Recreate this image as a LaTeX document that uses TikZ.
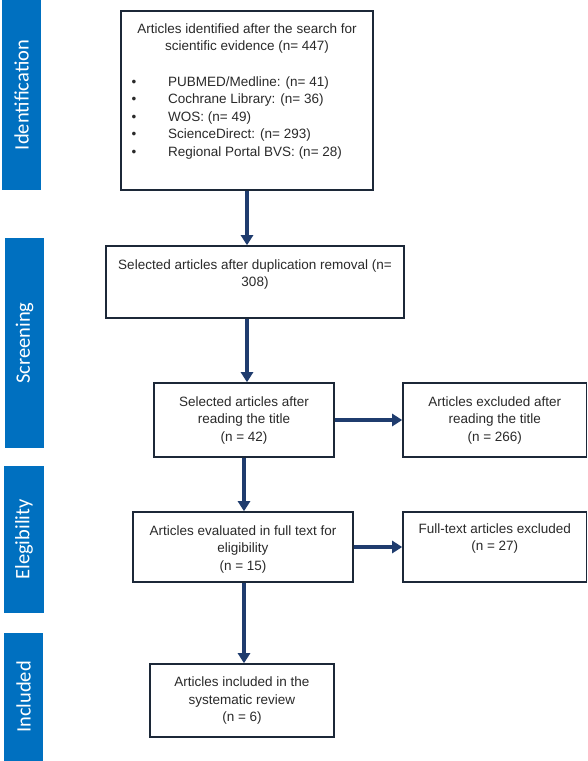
\documentclass[tikz,border=0pt]{standalone}
\usepackage{fontspec}
\setmainfont{Liberation Sans}
\newfontfamily\barfont{Carlito}
\usetikzlibrary{arrows.meta}
\definecolor{barblue}{HTML}{0070C0}
\definecolor{arrownavy}{HTML}{1F3C6E}
\definecolor{boxline}{HTML}{1C2838}
\definecolor{txtgray}{HTML}{2A2A2A}
\begin{document}
\begin{tikzpicture}[x=1pt,y=-1pt,
  box/.style={draw=boxline, line width=1.6pt, fill=white, inner sep=0pt,
    text=txtgray, font=\fontsize{13.5}{17.5}\selectfont, align=center},
  txt/.style={text=txtgray, font=\fontsize{13.5}{17.5}\selectfont, align=center, inner sep=0pt},
  bar/.style={fill=barblue, inner sep=0pt, text=white, rotate=90,
    font=\barfont\fontsize{20.5}{24}\selectfont},
  arr/.style={draw=arrownavy, line width=4.2pt, -{Triangle[width=12pt,length=10pt]}}
]
\useasboundingbox (0,0) rectangle (588,761);

% phase bars
\node[bar, minimum width=190pt, minimum height=39pt] (pid) at (21.5,95) {Identification};
\node[bar, minimum width=210pt, minimum height=39pt] (psc) at (24.5,343) {Screening};
\node[bar, minimum width=147pt, minimum height=40pt] (pel) at (24,539.5) {Elegibility};
\node[bar, minimum width=128pt, minimum height=39pt] (pin) at (23.5,697) {Included};

% boxes
\node[box, minimum width=252pt, minimum height=179pt] (b1) at (247,100.5) {};
\node[txt, anchor=north] (t1) at (247,23.4) {Articles identified after the search for\\scientific evidence (n= 447)};
\node[txt, anchor=north west, align=left] (t1b) at (131.5,76.2)
  {\makebox[36.5pt][l]{•}PUBMED/Medline: (n= 41)\\
   \makebox[36.5pt][l]{•}Cochrane Library: (n= 36)\\
   \makebox[36.5pt][l]{•}WOS: (n= 49)\\
   \makebox[36.5pt][l]{•}ScienceDirect: (n= 293)\\
   \makebox[36.5pt][l]{•}Regional Portal BVS: (n= 28)};

\node[box, minimum width=298pt, minimum height=72pt] (b2) at (255,282) {};
\node[txt, anchor=north] (t2) at (255,259.1) {Selected articles after duplication removal (n=\\308)};

\node[box, minimum width=180pt, minimum height=74pt] (b3) at (244,420)
  {Selected articles after\\reading the title\\(n = 42)};
\node[box, minimum width=183.5pt, minimum height=74pt] (b4) at (494.75,420)
  {Articles excluded after\\reading the title\\(n = 266)};

\node[box, minimum width=220pt, minimum height=70pt] (b5) at (243,547) {};
\node[txt, anchor=north] (t5) at (243,525.1) {Articles evaluated in full text for\\eligibility\\(n = 15)};
\node[box, minimum width=183.5pt, minimum height=70pt] (b6) at (494.75,547) {};
\node[txt, anchor=north] (t6) at (494.75,523.4) {Full-text articles excluded\\(n = 27)};

\node[box, minimum width=184pt, minimum height=73pt] (b7) at (242,700.5)
  {Articles included in the\\systematic review\\(n = 6)};

% arrows
\draw[arr] (b1.south) -- (b1.south |- b2.north);
\draw[arr] (b1.south |- b2.south) -- (b1.south |- b3.north);
\draw[arr] (b3.south) -- (b3.south |- b5.north);
\draw[arr] (b3.south |- b5.south) -- (b3.south |- b7.north);
\draw[arr] (b3.east) -- (b4.west);
\draw[arr] (b5.east) -- (b6.west);
\end{tikzpicture}
\end{document}
